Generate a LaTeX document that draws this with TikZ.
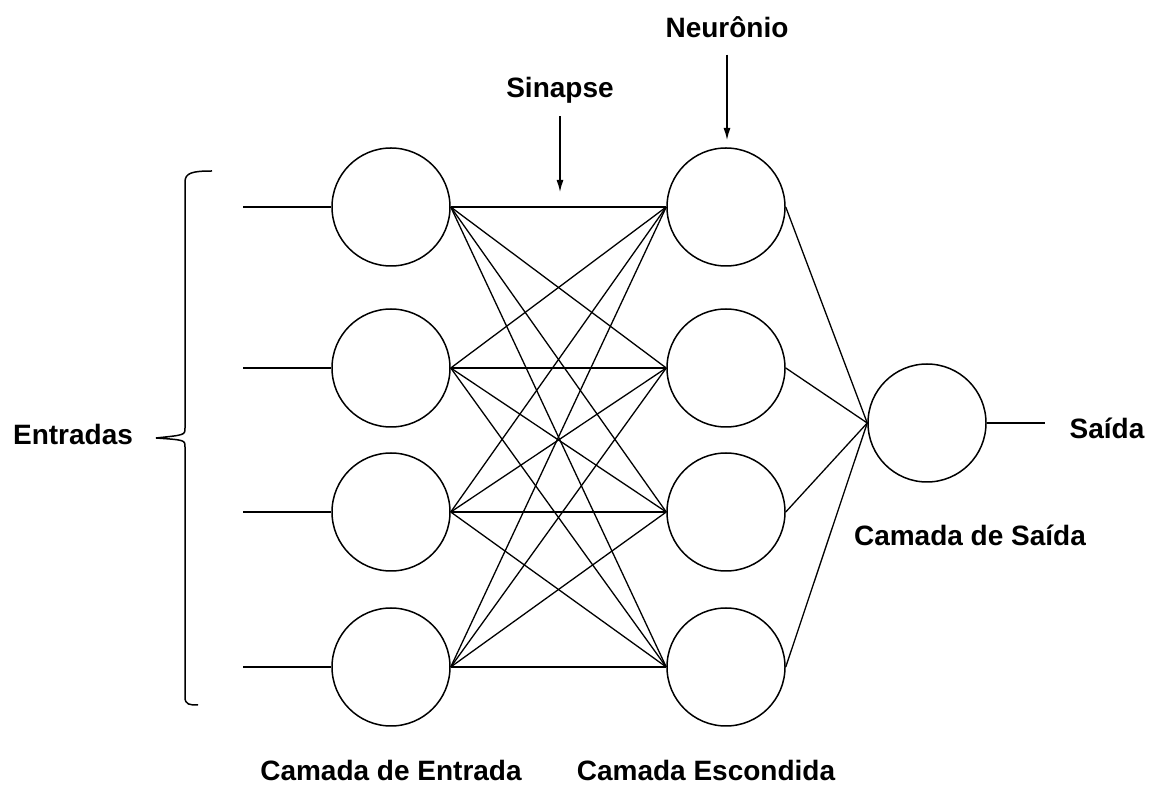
\documentclass[tikz,border=0pt]{standalone}
\usepackage{fontspec}
\setmainfont{Liberation Sans}
\usetikzlibrary{arrows.meta}

\tikzset{neuron/.style={draw, circle, minimum size=59pt, inner sep=0pt, line width=0.75pt},
    synapse/.style={line width=0.65pt},
    brace line/.style={line width=0.75pt},
    pointer/.style={-{Latex[length=6pt, width=3.5pt]}, line width=0.65pt},
    layer label/.style={font=\fontsize{14}{16}\selectfont\bfseries},
}

\begin{document}
\begin{tikzpicture}[x=0.5pt, y=-0.5pt]
	\useasboundingbox (0, 0) rectangle (1152, 785);

	% neurons of the input and hidden layers
	\foreach \i / \y in {1/207, 2/368, 3/512, 4/667} {
		\node[neuron] (in\i) at (391, \y) {};
		\node[neuron] (hid\i) at (726, \y) {};
		\coordinate (x\i) at (243, \y);
		\draw[synapse] (x\i) -- (in\i);
	}
	% output neuron
	\node[neuron] (out) at (927, 423) {};
	\coordinate (y) at (1045, 423);
	\draw[synapse] (out) -- (y);

	% synapses
	\foreach \i in {1, 2, 3, 4} {
		\foreach \j in {1, 2, 3, 4} {
			\draw[synapse] (in\i.east) -- (hid\j.west);
		}
		\draw[synapse] (hid\i.east) -- (out.west);
	}

	% brace of the inputs
	\draw[brace line] (212, 171) .. controls (192, 171) and (185, 173) .. (185, 182)
		-- (185, 428) .. controls (185, 435) .. (156, 438)
		.. controls (185, 440) .. (185, 447)
		-- (185, 697) .. controls (185, 705) and (190, 705) .. (198, 705);

	% labels
	\node[layer label] (entradas) at (73, 434) {Entradas};
	\node[layer label] (saida) at (1107, 428) {Saída};
	\node[layer label] (sinapse) at (560, 90) {Sinapse};
	\node[layer label] (neuronio) at (727, 27) {Neurônio};
	\node[layer label] (camsaida) at (970, 535) {Camada de Saída};
	\node[layer label] (camentrada) at (391, 770) {Camada de Entrada};
	\node[layer label] (camescondida) at (706, 770) {Camada Escondida};

	% pointers
	\coordinate (sinapse tip) at (560, 192);
	\coordinate (neuronio tip) at (727, 140);
	\draw[pointer] (sinapse.south) ++(0, 6) -- (sinapse tip);
	\draw[pointer] (neuronio.south) ++(0, 10) -- (neuronio tip);
\end{tikzpicture}
\end{document}
